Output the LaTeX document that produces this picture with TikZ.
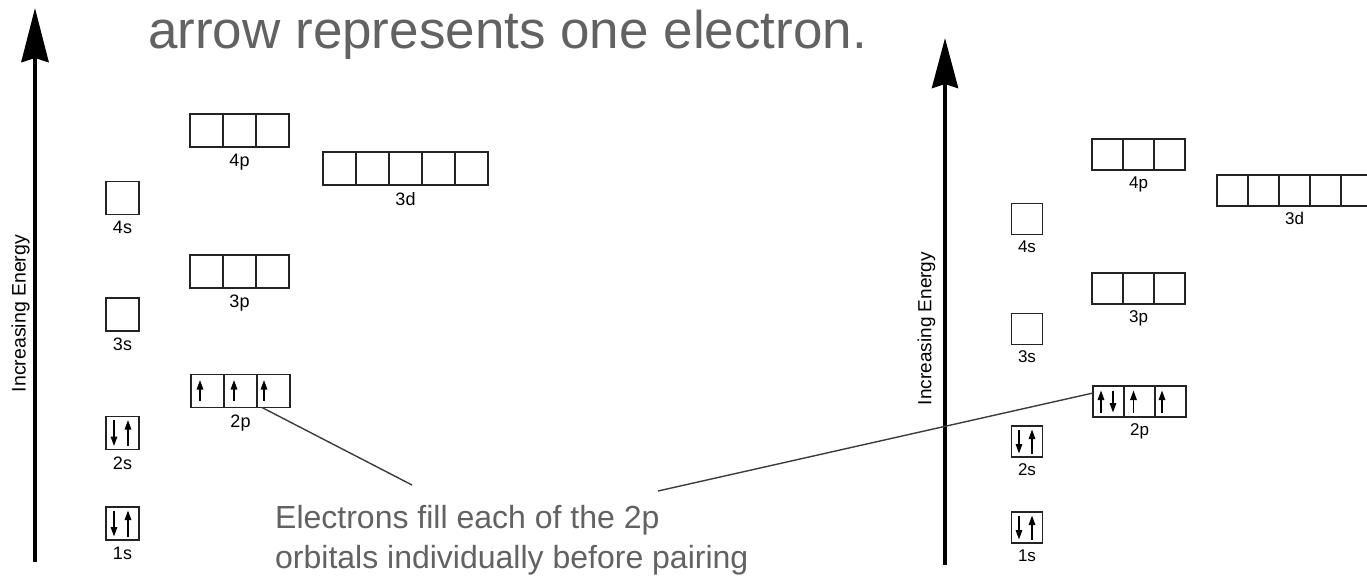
\documentclass[tikz,border=0pt]{standalone}
\usepackage{fontspec}
\setmainfont{Liberation Sans}
\usetikzlibrary{arrows.meta,positioning}
\definecolor{notegray}{RGB}{98,98,98}
\definecolor{boxline}{RGB}{35,35,35}
\definecolor{ptrline}{RGB}{60,60,60}

\begin{document}
\begin{tikzpicture}[x=1pt,y=-1pt,
  orb/.style={draw=boxline,line width=1.5pt,minimum size=33pt,inner sep=0pt,outer sep=0pt},
  orbr/.style={orb,minimum size=31pt},
  lbl/.style={inner sep=0pt,outer sep=0pt,font=\fontsize{18}{18}\selectfont},
  lblr/.style={lbl,font=\fontsize{17}{17}\selectfont},
  note/.style={text=notegray,inner sep=0pt,align=left},
  axis/.style={line width=4.5pt,-{Stealth[length=54pt,width=27pt,inset=4pt]}},
  axisr/.style={line width=4.2pt,-{Stealth[length=50pt,width=26pt,inset=4pt]}},
  el/.style={line width=1.5pt,-{Triangle[length=9.5pt,width=6.5pt]}},
  ptr/.style={ptrline,line width=1.4pt}
]
\clip (0,0) rectangle (1367,581);
\fill[white] (0,0) rectangle (1367,581);

\node[note,anchor=base west,font=\fontsize{53}{53}\selectfont] (title) at (148,48) {arrow represents one electron.};

% left diagram
\coordinate (axL0) at (35,562);
\coordinate (axL1) at (35,8);
\draw[axis] (axL0) -- (axL1);
\node[lbl,rotate=90,font=\fontsize{19.5}{19.5}\selectfont] (engL) at (20.5,313.5) {Increasing Energy};

\node[orb] (L1s) at (122.5,523.5) {};
\node[orb] (L2s) at (122.5,433) {};
\node[orb] (L3s) at (122.5,314.5) {};
\node[orb] (L4s) at (122.5,198) {};
\node[orb] (L2p1) at (207.5,391) {}; \node[orb,right=0pt of L2p1] (L2p2) {}; \node[orb,right=0pt of L2p2] (L2p3) {};
\node[orb] (L3p1) at (206.5,271.5) {}; \node[orb,right=0pt of L3p1] (L3p2) {}; \node[orb,right=0pt of L3p2] (L3p3) {};
\node[orb] (L4p1) at (206.5,130.5) {}; \node[orb,right=0pt of L4p1] (L4p2) {}; \node[orb,right=0pt of L4p2] (L4p3) {};
\node[orb] (L3d1) at (339.5,168.5) {}; \node[orb,right=0pt of L3d1] (L3d2) {}; \node[orb,right=0pt of L3d2] (L3d3) {};
\node[orb,right=0pt of L3d3] (L3d4) {}; \node[orb,right=0pt of L3d4] (L3d5) {};

\node[lbl,below=7pt of L1s] (L1sl) {1s};
\node[lbl,below=7pt of L2s] (L2sl) {2s};
\node[lbl,below=7pt of L3s] (L3sl) {3s};
\node[lbl,below=7pt of L4s] (L4sl) {4s};
\node[lbl,below=7pt of L2p2] (L2pl) {2p};
\node[lbl,below=7pt of L3p2] (L3pl) {3p};
\node[lbl,below=7pt of L4p2] (L4pl) {4p};
\node[lbl,below=7pt of L3d3] (L3dl) {3d};

% electrons
\draw[el] ([xshift=-8.5pt,yshift=13pt]L1s.center) -- ([xshift=-8.5pt,yshift=-13pt]L1s.center);
\draw[el] ([xshift=5.5pt,yshift=-13pt]L1s.center) -- ([xshift=5.5pt,yshift=13pt]L1s.center);
\draw[el] ([xshift=-8.5pt,yshift=13pt]L2s.center) -- ([xshift=-8.5pt,yshift=-13pt]L2s.center);
\draw[el] ([xshift=5.5pt,yshift=-13pt]L2s.center) -- ([xshift=5.5pt,yshift=13pt]L2s.center);
\draw[el] ([xshift=-7.5pt,yshift=-10pt]L2p1.center) -- ([xshift=-7.5pt,yshift=11pt]L2p1.center);
\draw[el] ([xshift=-6.5pt,yshift=-10pt]L2p2.center) -- ([xshift=-6.5pt,yshift=11pt]L2p2.center);
\draw[el] ([xshift=-9.5pt,yshift=-10pt]L2p3.center) -- ([xshift=-9.5pt,yshift=11pt]L2p3.center);

% right diagram
\coordinate (axR0) at (945,565);
\coordinate (axR1) at (945,38);
\draw[axisr] (axR0) -- (axR1);
\node[lbl,rotate=90,font=\fontsize{19}{19}\selectfont] (engR) at (926.5,328.5) {Increasing Energy};

\node[orbr] (R1s) at (1027,527.5) {};
\node[orbr] (R2s) at (1027,441.5) {};
\node[orbr] (R3s) at (1027,329) {};
\node[orbr] (R4s) at (1027,219) {};
\node[orbr] (R2p1) at (1108.5,401.5) {}; \node[orbr,right=0pt of R2p1] (R2p2) {}; \node[orbr,right=0pt of R2p2] (R2p3) {};
\node[orbr] (R3p1) at (1107.5,288.5) {}; \node[orbr,right=0pt of R3p1] (R3p2) {}; \node[orbr,right=0pt of R3p2] (R3p3) {};
\node[orbr] (R4p1) at (1107.5,154.5) {}; \node[orbr,right=0pt of R4p1] (R4p2) {}; \node[orbr,right=0pt of R4p2] (R4p3) {};
\node[orbr] (R3d1) at (1232.5,190.5) {}; \node[orbr,right=0pt of R3d1] (R3d2) {}; \node[orbr,right=0pt of R3d2] (R3d3) {};
\node[orbr,right=0pt of R3d3] (R3d4) {}; \node[orbr,right=0pt of R3d4] (R3d5) {};

\node[lblr,below=6.5pt of R1s] (R1sl) {1s};
\node[lblr,below=6.5pt of R2s] (R2sl) {2s};
\node[lblr,below=6.5pt of R3s] (R3sl) {3s};
\node[lblr,below=6.5pt of R4s] (R4sl) {4s};
\node[lblr,below=6.5pt of R2p2] (R2pl) {2p};
\node[lblr,below=6.5pt of R3p2] (R3pl) {3p};
\node[lblr,below=6.5pt of R4p2] (R4pl) {4p};
\node[lblr,below=6.5pt of R3d3] (R3dl) {3d};

% electrons
\draw[el] ([xshift=-8pt,yshift=12pt]R1s.center) -- ([xshift=-8pt,yshift=-12pt]R1s.center);
\draw[el] ([xshift=5pt,yshift=-12pt]R1s.center) -- ([xshift=5pt,yshift=12pt]R1s.center);
\draw[el] ([xshift=-8pt,yshift=12pt]R2s.center) -- ([xshift=-8pt,yshift=-12pt]R2s.center);
\draw[el] ([xshift=5pt,yshift=-12pt]R2s.center) -- ([xshift=5pt,yshift=12pt]R2s.center);
\draw[el] ([xshift=-7.5pt,yshift=-11pt]R2p1.center) -- ([xshift=-7.5pt,yshift=11pt]R2p1.center);
\draw[el] ([xshift=4.5pt,yshift=11pt]R2p1.center) -- ([xshift=4.5pt,yshift=-11pt]R2p1.center);
\draw[el] ([xshift=-6pt,yshift=-11pt]R2p2.center) -- ([xshift=-6pt,yshift=11pt]R2p2.center);
\draw[el] ([xshift=-8.5pt,yshift=-11pt]R2p3.center) -- ([xshift=-8.5pt,yshift=11pt]R2p3.center);

% note and pointers
\node[note,anchor=north west,font=\fontsize{32}{40}\selectfont] (fillnote) at (275,505)
  {Electrons fill each of the 2p\\orbitals individually before pairing};
\coordinate (ptrL) at (412,485);
\coordinate (ptrR) at (658,491);
\draw[ptr] ([xshift=5pt]L2p3.south west) -- (ptrL);
\draw[ptr] ([yshift=-7pt]R2p1.north west) -- (ptrR);
\end{tikzpicture}
\end{document}
